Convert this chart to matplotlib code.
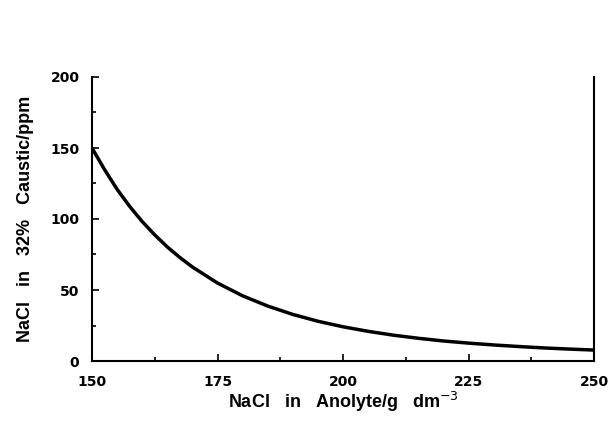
import matplotlib
matplotlib.use("Agg")
import matplotlib.pyplot as plt
from matplotlib.ticker import MultipleLocator

plt.rcParams["font.family"] = ["Liberation Sans", "DejaVu Sans"]

nacl_anolyte = [150, 152.5, 155, 157.5, 160, 162.5, 165, 167.5, 170, 175, 180, 185, 190, 195, 200,
                205, 210, 215, 220, 225, 230, 235, 240, 245, 250]
nacl_caustic = [150, 134.8, 120.9, 108.9, 98.2, 88.8, 80.3, 72.9, 66.2, 54.9, 45.9, 38.7, 32.8,
                28.0, 24.1, 20.9, 18.2, 16.0, 14.1, 12.6, 11.3, 10.2, 9.2, 8.4, 7.7]
x_ticks = [150, 175, 200, 225, 250]
y_ticks = [0, 50, 100, 150, 200]

W, H = 612, 436
fig = plt.figure(figsize=(W / 100, H / 100), dpi=100)
ax = fig.add_axes([92 / W, 1 - 361 / H, (594 - 92) / W, (361 - 77) / H])

ax.plot(nacl_anolyte, nacl_caustic, color="black", lw=2.5, solid_capstyle="round",
        solid_joinstyle="round")
ax.set_xlim(150, 250)
ax.set_ylim(0, 200)
ax.set_xticks(x_ticks)
ax.set_yticks(y_ticks)
ax.xaxis.set_minor_locator(MultipleLocator(12.5))
ax.yaxis.set_minor_locator(MultipleLocator(25))
ax.spines["top"].set_visible(False)
for s in ["left", "bottom", "right"]:
    ax.spines[s].set_linewidth(1.5)
ax.tick_params(which="both", direction="in", top=False, right=False, width=1.2)
ax.tick_params(which="major", length=5)
ax.tick_params(axis="x", which="major", pad=10)
ax.tick_params(axis="y", which="major", pad=9)
ax.tick_params(which="minor", length=3)
ax.set_xticklabels([str(t) for t in x_ticks], fontweight="bold", fontsize=10,
                   family="DejaVu Sans")
ax.set_yticklabels([str(t) for t in y_ticks], fontweight="bold", fontsize=10,
                   family="DejaVu Sans")
ax.set_xlabel("NaCl   in   Anolyte/g   dm$^{-3}$", fontsize=13, fontweight="bold", labelpad=1)
ax.set_ylabel("NaCl   in   32%   Caustic/ppm", fontsize=13, fontweight="bold", labelpad=12)

fig.savefig("out.png", dpi=100)
